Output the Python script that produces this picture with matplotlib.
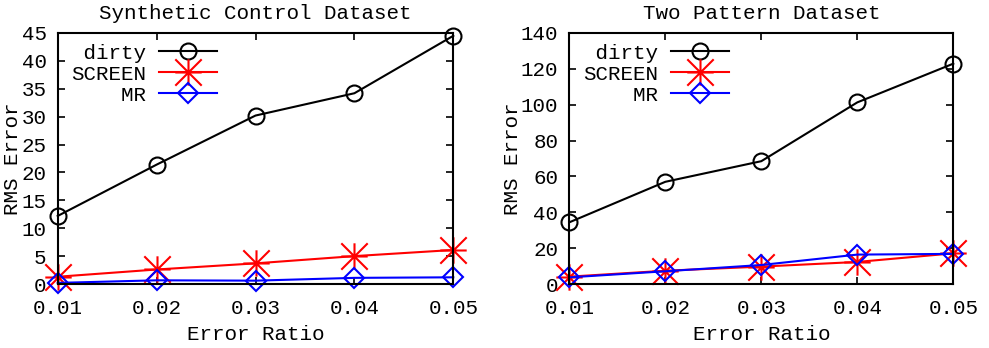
import matplotlib
matplotlib.use("Agg")
import matplotlib.pyplot as plt
from matplotlib.path import Path

x_ratio = [0.01, 0.02, 0.03, 0.04, 0.05]
x_ticklabels = ["0.01", "0.02", "0.03", "0.04", "0.05"]

syn_dirty = [12.2, 21.4, 30.2, 34.2, 44.5]
syn_screen = [1.3, 2.6, 3.7, 5.0, 6.1]
syn_mr = [0.2, 0.66, 0.6, 1.1, 1.2]

two_dirty = [34.4, 57.0, 68.5, 101.3, 122.9]
two_screen = [4.1, 7.4, 9.7, 12.3, 17.1]
two_mr = [3.7, 7.1, 10.6, 16.4, 16.8]

titles = ["Synthetic Control Dataset", "Two Pattern Dataset"]
series_labels = [" dirty", "SCREEN", "    MR"]

plt.rcParams['font.family'] = ['Liberation Mono', 'DejaVu Sans Mono']

# gnuplot-style asterisk (plus + cross)
star = Path([(-1, 0), (1, 0), (0, -1), (0, 1), (-1, -1), (1, 1), (-1, 1), (1, -1)],
            [Path.MOVETO, Path.LINETO] * 4)

fig = plt.figure(figsize=(9.89, 3.48), dpi=100)
ax1 = fig.add_axes([57.7/989, 64/348, 395.6/989, 251/348])
ax2 = fig.add_axes([569.3/989, 64/348, 384/989, 251/348])

FS = 15

def draw(ax, dirty, screen, mr, ymax, ystep, title, ylabx, legx):
    ax.plot(x_ratio, dirty, color='black', lw=1.5, marker='o', ms=11.5,
            mfc='none', mec='black', mew=1.5, label=series_labels[0])
    ax.plot(x_ratio, screen, color='red', lw=1.5, marker=star, ms=19,
            mec='red', mew=1.5, label=series_labels[1])
    ax.plot(x_ratio, mr, color='blue', lw=1.5, marker='D', ms=10,
            mfc='none', mec='blue', mew=1.5, label=series_labels[2])
    ax.set_xlim(0.01, 0.05)
    ax.set_ylim(0, ymax)
    ax.set_xticks(x_ratio)
    ax.set_xticklabels(x_ticklabels)
    ax.set_yticks(list(range(0, ymax + 1, ystep)))
    ax.tick_params(direction='in', length=5, width=1.2, top=True, right=True,
                   labelsize=FS, colors='black')
    ax.tick_params(axis='x', pad=11)
    ax.tick_params(axis='y', pad=8)
    for s in ax.spines.values():
        s.set_linewidth(1.5)
    ax.set_title(title, fontsize=FS, pad=10)
    ax.set_xlabel("Error Ratio", fontsize=FS)
    ax.xaxis.set_label_coords(0.5, -0.2)
    ax.xaxis.label.set_va('center')
    ax.set_ylabel("RMS Error", fontsize=FS)
    ax.yaxis.set_label_coords(ylabx, 0.5)
    ax.yaxis.label.set_va('center')
    ax.legend(loc='upper left', bbox_to_anchor=(legx, 0.983), frameon=False,
              markerfirst=False, fontsize=FS, handlelength=2.8,
              handletextpad=0.6, labelspacing=0.1, borderaxespad=0,
              borderpad=0.3)
    for l in ax.lines:
        l.set_clip_on(False)

draw(ax1, syn_dirty, syn_screen, syn_mr, 45, 5, titles[0], -0.113, 0.018)
draw(ax2, two_dirty, two_screen, two_mr, 140, 20, titles[1], -0.147, 0.02)

fig.savefig("out.png", dpi=100)
